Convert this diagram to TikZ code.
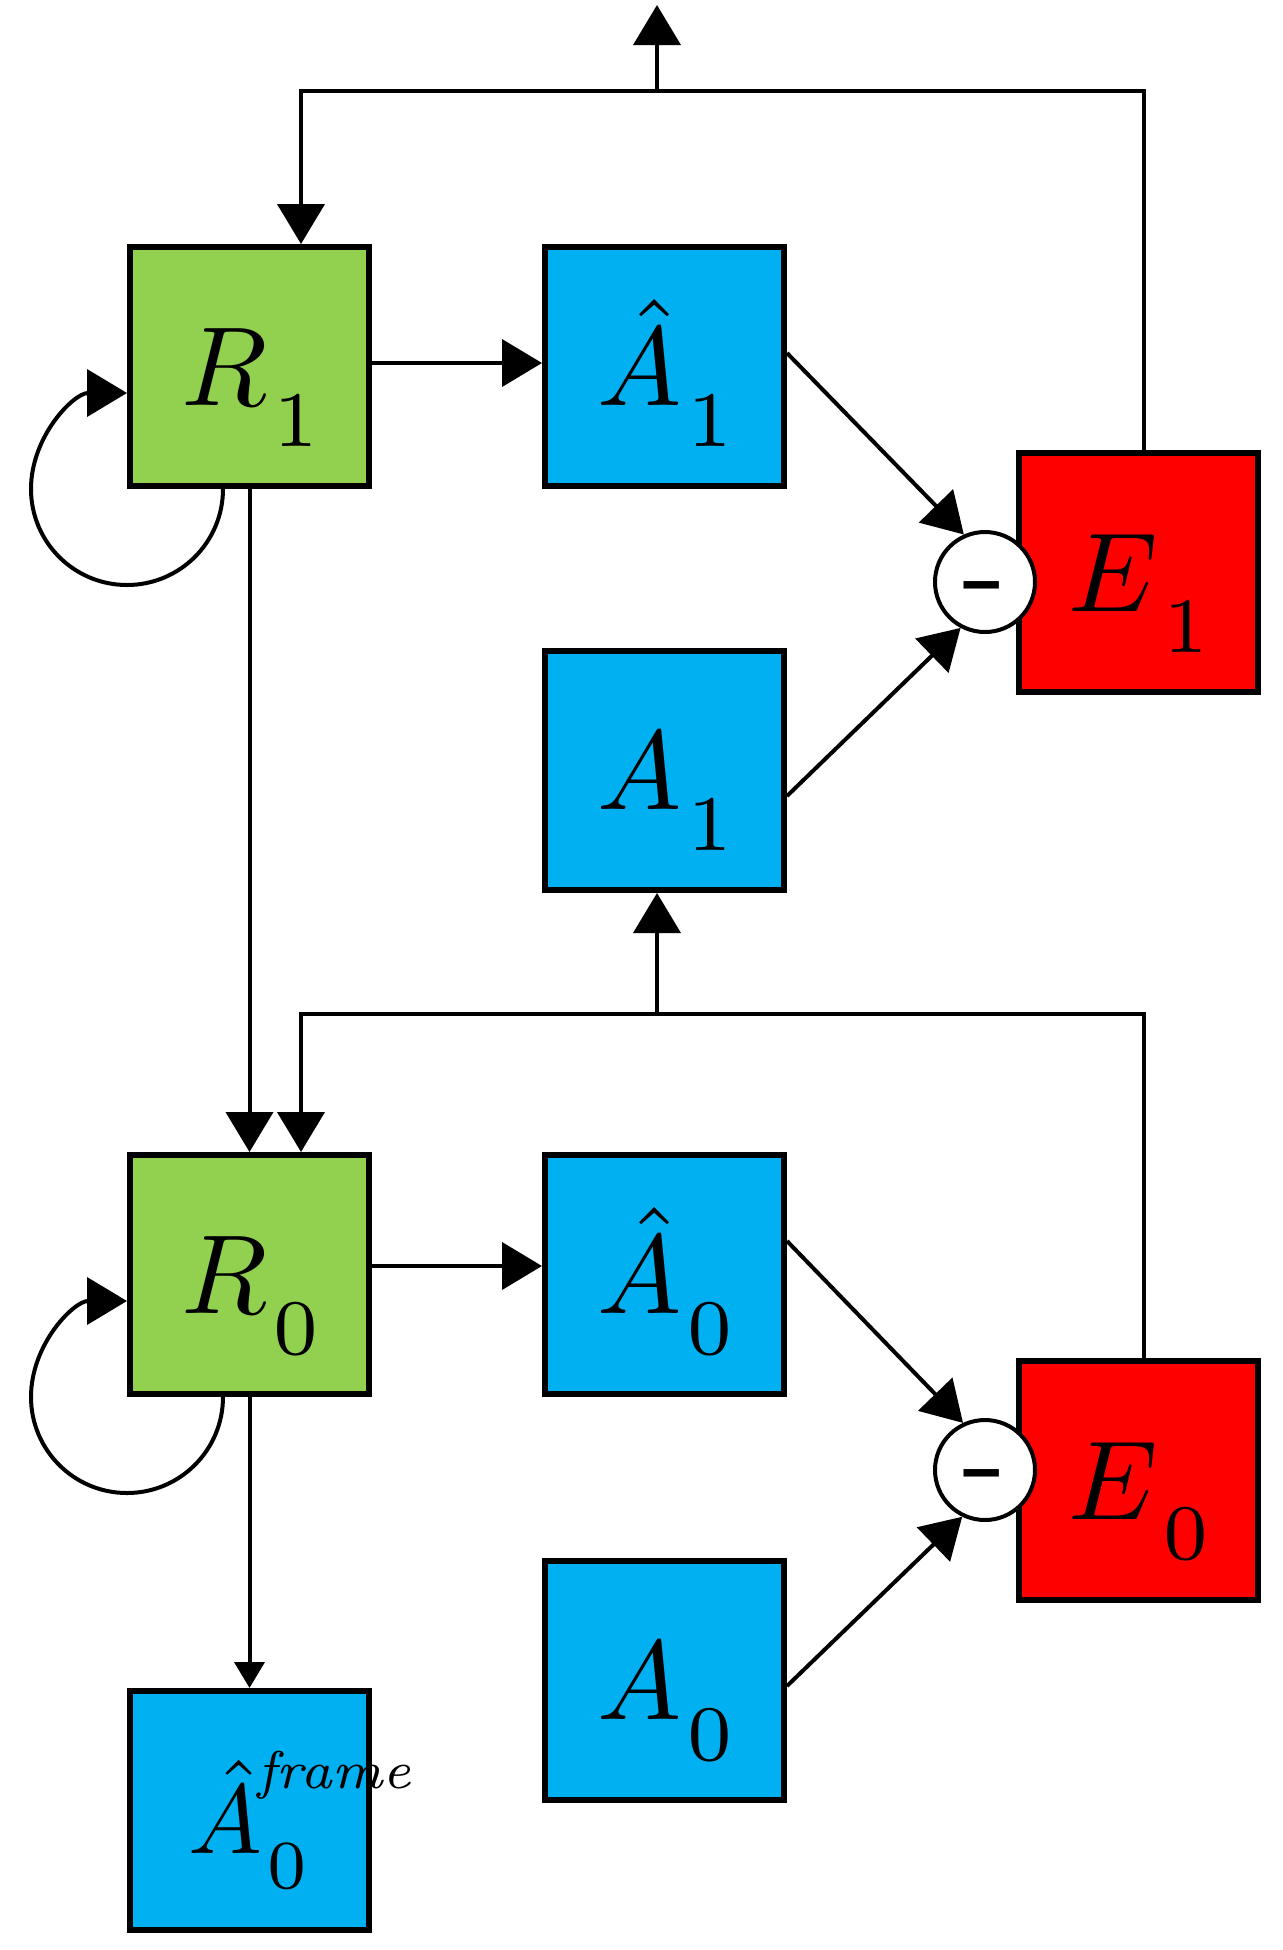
\documentclass[tikz,border=0pt]{standalone}
\usetikzlibrary{arrows.meta,calc}
\definecolor{rgreen}{HTML}{92D050}
\definecolor{rblue}{HTML}{00B0F0}
\definecolor{rred}{HTML}{FF0000}
\newcommand{\lbl}[2]{\scalebox{3.2}{$#1$\kern0.5pt\raisebox{-3.6pt}{$\scriptstyle #2$}}}
\begin{document}
\begin{tikzpicture}[
  box/.style={draw=black, line width=0.06cm, minimum size=2.39cm, inner sep=0pt,
    text height=0.88cm, text depth=0.10cm},
  gbox/.style={box, fill=rgreen},
  bbox/.style={box, fill=rblue},
  rbox/.style={box, fill=rred},
  minus/.style={circle, draw=black, fill=white, line width=0.04cm, minimum size=1.0cm,
    inner sep=0pt, text height=0.40cm, text depth=0cm},
  conn/.style={line width=0.04cm, -{Triangle[length=0.40cm,width=0.47cm]}},
  smallconn/.style={line width=0.04cm, -{Triangle[length=0.26cm,width=0.30cm]}},
]
\useasboundingbox (0,0) rectangle (12.83,-19.50);

\node[gbox] (R1) at (2.495,-3.665) {\lbl{R}{1}};
\node[bbox] (Ah1) at (6.645,-3.665) {\lbl{\hat{A}}{1}};
\node[bbox] (A1) at (6.645,-7.705) {\lbl{A}{1}};
\node[rbox] (E1) at (11.385,-5.725) {\lbl{E}{1}};
\node[minus] (m1) at (9.85,-5.82) {\scalebox{3.3}[2.2]{\bfseries -}};
\node[gbox] (R0) at (2.495,-12.745) {\lbl{R}{0}};
\node[bbox] (Ah0) at (6.645,-12.745) {\lbl{\hat{A}}{0}};
\node[bbox] (A0) at (6.645,-16.805) {\lbl{A}{0}};
\node[rbox] (E0) at (11.385,-14.80) {\lbl{E}{0}};
\node[minus] (m0) at (9.85,-14.70) {\scalebox{3.3}[2.2]{\bfseries -}};
\node[bbox] (Af) at (2.495,-18.105) {};
\node[anchor=base west, inner sep=0pt] (Aft)
  at ($(Af.center)+(-0.62,-0.425)$)
  {\scalebox{2.8}{$\hat{A}$\rlap{\kern-0.5pt\raisebox{6.6pt}{\fontsize{5.4}{6.5}\selectfont\itshape frame}}\kern0.6pt\raisebox{-3.6pt}{$\scriptstyle 0$}}};

\coordinate (top1) at (6.57,-0.91);
\coordinate (out1) at (6.57,-0.05);
\coordinate (mid0) at (6.57,-10.14);

\draw[conn] ([yshift=0.035cm]R1.east) -- ([yshift=0.035cm]Ah1.west);
\draw[conn] ([yshift=0.135cm]Ah1.east) -- (m1.114);
\draw[conn] ([yshift=-0.255cm]A1.east) -- (m1.-118);
\draw[conn] ([xshift=0.055cm]E1.north) |- (top1) -| ([xshift=0.515cm]R1.north);
\draw[conn] (top1) -- (out1);
\draw[conn] (R1.south) -- (R0.north);
\draw[conn] ([xshift=0.055cm]E0.north) |- (mid0) -| ([xshift=0.515cm]R0.north);
\draw[conn] (mid0) -- (mid0 |- A1.south);
\draw[conn] ([yshift=0.085cm]R0.east) -- ([yshift=0.085cm]Ah0.west);
\draw[conn] ([yshift=0.335cm]Ah0.east) -- (m0.115);
\draw[conn] ([yshift=-0.055cm]A0.east) -- (m0.-116);
\draw[smallconn] (R0.south) -- (Af.north);
\draw[conn] ([xshift=0.96cm]R1.south west) arc[start angle=0, end angle=-270, radius=0.96cm];
\draw[conn] ([xshift=0.96cm]R0.south west) arc[start angle=0, end angle=-270, radius=0.96cm];
\end{tikzpicture}
\end{document}
